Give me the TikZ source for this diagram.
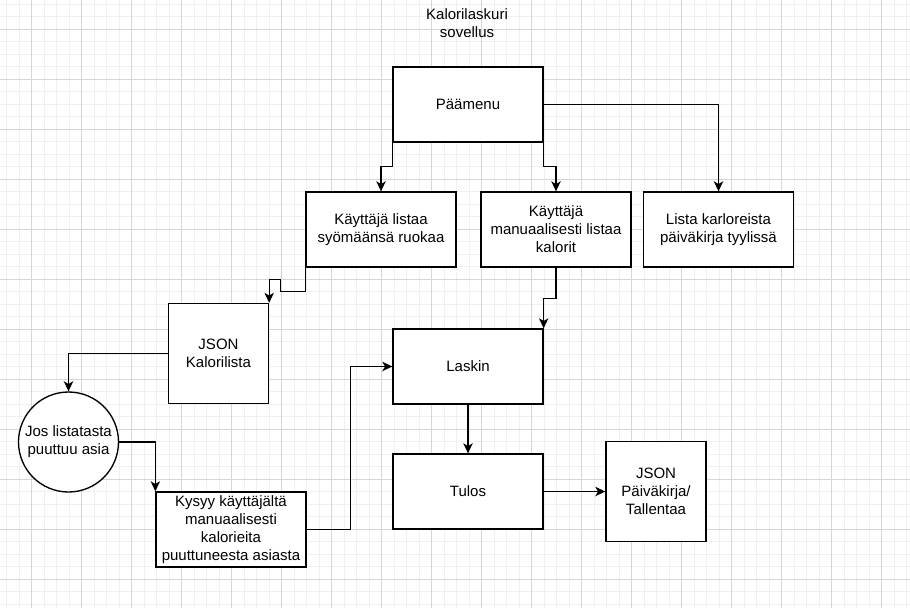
\documentclass[tikz,border=0pt]{standalone}
\usepackage{fontspec}
\setmainfont{Liberation Sans}
\usetikzlibrary{arrows.meta}
\definecolor{minorgrid}{RGB}{240,240,240}
\definecolor{majorgrid}{RGB}{214,214,214}
\begin{document}
\begin{tikzpicture}
  [x=0.75pt,y=-0.75pt,
   every node/.style={font=\fontsize{11.25pt}{13.5pt}\selectfont,align=center,inner sep=0pt},
   box/.style={draw,fill=white,line width=1pt,minimum width=112.5pt,minimum height=56.25pt},
   sqbox/.style={box,minimum width=75pt,minimum height=75pt},
   arr/.style={line width=1pt,-{Stealth[length=7.5pt,width=7pt,inset=2pt]}}]
  \useasboundingbox (0,0) rectangle (910,608);
  \fill[white] (0,0) rectangle (910,608);

  % grid
  \foreach \gx in {6.5,19,...,906.5}
    \draw[minorgrid,line width=0.75pt] (\gx,0) -- (\gx,608);
  \foreach \gy in {4.3,16.8,...,604.3}
    \draw[minorgrid,line width=0.75pt] (0,\gy) -- (910,\gy);
  \foreach \gx in {31.5,81.5,...,881.5}
    \draw[majorgrid,line width=0.75pt] (\gx,0) -- (\gx,608);
  \foreach \gy in {29.3,79.3,...,579.3}
    \draw[majorgrid,line width=0.75pt] (0,\gy) -- (910,\gy);

  \node (title) at (467,23) {Kalorilaskuri\\sovellus};
  \node (menu)[box] at (468,104.5) {Päämenu};
  \node (lista)[box] at (381,229.5) {Käyttäjä listaa\\syömäänsä ruokaa};
  \node (manu)[box] at (556,229.5) {Käyttäjä\\manuaalisesti listaa\\kalorit};
  \node (paivak)[box] at (718.5,229.5) {Lista karloreista\\päiväkirja tyylissä};
  \node (json)[sqbox] at (218.5,353.5) {JSON\\Kalorilista};
  \node (jos)[draw,fill=white,line width=1pt,circle,minimum size=75pt] at (68.5,442) {Jos listatasta\\puuttuu asia};
  \node (kysyy)[box] at (231,529.5) {Kysyy käyttäjältä\\manuaalisesti\\kalorieita\\puuttuneesta asiasta};
  \node (laskin)[box] at (468,366.5) {Laskin};
  \node (tulos)[box] at (468,491.5) {Tulos};
  \node (tallenna)[sqbox] at (656,491.5) {JSON\\Päiväkirja/\\Tallentaa};

  \draw[arr] (menu.south west) -- ++(0,24) -| (lista.north);
  \draw[arr] (menu.south east) -- ++(0,24) -| (manu.north);
  \draw[arr] (menu.east) -| (paivak.north);
  \draw[arr] (lista.south west) -- ++(0,24) -- ++(-25,0) -- ++(0,-12) -| (json.north east);
  \draw[arr] (manu.south) -- ++(0,31) -| (laskin.north east);
  \draw[arr] (json.west) -| (jos.north);
  \draw[arr] (jos.east) -| (kysyy.north west);
  \draw[arr] (kysyy.east) -- ++(44,0) |- (laskin.west);
  \draw[arr] (laskin) -- (tulos);
  \draw[arr] (tulos) -- (tallenna);

\end{tikzpicture}
\end{document}
